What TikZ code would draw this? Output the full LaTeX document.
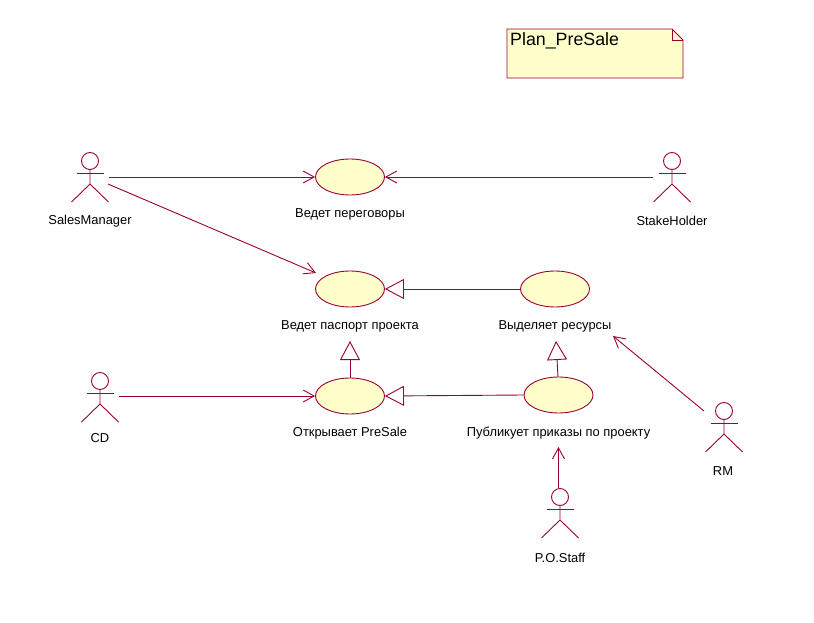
\documentclass[tikz,border=0pt]{standalone}
\usepackage{fontspec}
\setmainfont{Liberation Sans}
\usetikzlibrary{arrows.meta,shapes.geometric}
\definecolor{umlline}{HTML}{990033}
\definecolor{umlfill}{HTML}{FFFFCC}
\tikzset{
  usecase/.style={draw=umlline,fill=umlfill,ellipse,line width=0.9pt,inner sep=0pt,minimum width=69pt,minimum height=36pt},
  lbl/.style={font=\fontsize{12.9}{14}\selectfont,inner sep=0pt,text=black},
  actorbox/.style={inner sep=0pt,minimum width=37pt,minimum height=50pt},
  actorline/.style={draw=umlline,line width=0.9pt},
  assoc/.style={draw=umlline,line width=0.9pt,-{Straight Barb[length=11pt,width=12pt,line width=0.9pt]}},
  gen/.style={draw=umlline,line width=0.9pt,-{Triangle[open,length=19pt,width=20pt,fill=white,line width=0.9pt]}}
}
\newcommand{\umlactor}[5]{%
  \node[actorbox] (#1) at (#2,#3+16) {};
  \draw[actorline] (#2,#3) circle (8.5pt);
  \draw[actorline] (#2,#3+8.5) -- (#2,#3+23) -- (#2-18.5,#3+41);
  \draw[actorline] (#2,#3+23) -- (#2+18.5,#3+41);
  \draw[actorline] (#2-13.5,#3+12) -- (#2+13.5,#3+12);
  \node[lbl] (#1-label) at (#4,#5) {#1};
}
\begin{document}
\begin{tikzpicture}[x=1pt,y=-1pt]
\useasboundingbox (0,0) rectangle (814,623);
% note
\draw[draw=umlline,fill=umlfill,line width=0.9pt] (507,29) -- (672,29) -- (683,40) -- (683,78) -- (507,78) -- cycle;
\draw[draw=umlline,line width=0.9pt] (672,29) -- (672,40) -- (683,40);
\node[font=\fontsize{17.8}{20}\selectfont,inner sep=0pt,anchor=west,text=black] (note) at (510,41) {Plan\_PreSale};
% use cases
\node[usecase] (talks) at (350,177) {};
\node[usecase] (passport) at (350,289) {};
\node[usecase] (resources) at (555,289) {};
\node[usecase] (open) at (350,396) {};
\node[usecase] (orders) at (558.5,395) {};
\node[lbl] (talks-label) at (350,214.5) {Ведет переговоры};
\node[lbl] (passport-label) at (350,326.5) {Ведет паспорт проекта};
\node[lbl] (resources-label) at (555,326.5) {Выделяет ресурсы};
\node[lbl] (open-label) at (350,433.5) {Открывает PreSale};
\node[lbl] (orders-label) at (558.5,433.5) {Публикует приказы по проекту};
% actors
\umlactor{SalesManager}{90}{161}{90}{221}
\umlactor{StakeHolder}{672}{161}{672}{221}
\umlactor{CD}{100}{381}{100}{438.5}
\umlactor{RM}{724}{411}{723}{471}
\umlactor{P.O.Staff}{560}{497}{560}{557.5}
% free ends
\coordinate (smB) at (108,184);
\coordinate (passIn) at (316,273);
\coordinate (rmA) at (704,411);
\coordinate (resIn) at (613,336);
\coordinate (poA) at (558.5,488);
\coordinate (ordIn) at (558.5,447);
\coordinate (shA) at (653,177);
\coordinate (cdA) at (119,396);
\coordinate (passUp) at (350,341);
\coordinate (resUp) at (556,341);
\coordinate (ordTop) at (558,377);
% associations
\draw[assoc] (SalesManager.east) -- (talks.west);
\draw[assoc] (shA) -- (talks.east);
\draw[assoc] (smB) -- (passIn);
\draw[assoc] (cdA) -- (open.west);
\draw[assoc] (rmA) -- (resIn);
\draw[assoc] (poA) -- (ordIn);
% generalizations
\draw[gen] (resources.west) -- (passport.east);
\draw[gen] (orders.west) -- (open.east);
\draw[gen] (open.north) -- (passUp);
\draw[gen] (ordTop) -- (resUp);
\end{tikzpicture}
\end{document}
